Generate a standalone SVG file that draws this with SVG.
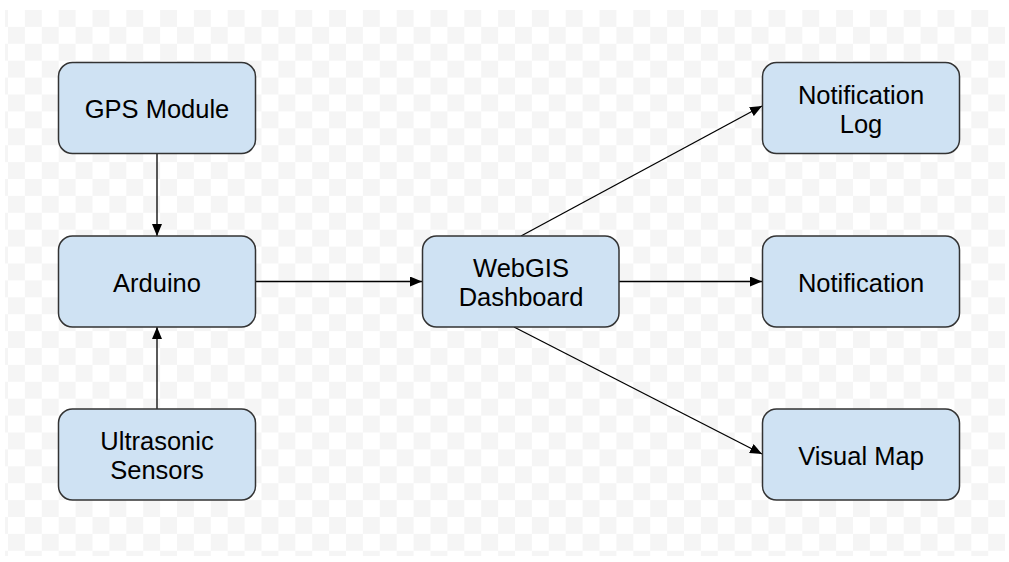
<svg xmlns="http://www.w3.org/2000/svg" width="1009" height="562" viewBox="0 0 1009 562">
  <defs>
    <pattern id="checker" x="8" y="10" width="33.8" height="33.8" patternUnits="userSpaceOnUse">
      <rect x="0" y="0" width="33.8" height="33.8" fill="#ffffff"/>
      <rect x="16.9" y="0" width="16.9" height="16.9" fill="#f5f5f5"/>
      <rect x="0" y="16.9" width="16.9" height="16.9" fill="#f5f5f5"/>
    </pattern>
    <marker id="arrow" viewBox="0 0 12 10" refX="12" refY="5" markerWidth="12" markerHeight="10" markerUnits="userSpaceOnUse" orient="auto">
      <path d="M0,0 L12,5 L0,10 Z" fill="#000"/>
    </marker>
  </defs>
  <style>
    .box { fill: #cfe2f3; stroke: #333333; stroke-width: 1.5; }
    .lbl { font-family: "Liberation Sans", Arial, sans-serif; font-size: 25.5px; fill: #000; text-anchor: middle; }
    .edge { stroke: #000; stroke-width: 1.3; fill: none; marker-end: url(#arrow); }
  </style>
  <rect x="0" y="0" width="1009" height="562" fill="#ffffff"/>
  <rect x="5" y="10" width="1000" height="546" fill="url(#checker)"/>

  <g id="connectors">
    <line class="edge" x1="157" y1="154" x2="157" y2="236"/>
    <line class="edge" x1="157" y1="409" x2="157" y2="327"/>
    <line class="edge" x1="256" y1="281.5" x2="422" y2="281.5"/>
    <line class="edge" x1="521" y1="236" x2="762" y2="106"/>
    <line class="edge" x1="619" y1="281.5" x2="762" y2="281.5"/>
    <line class="edge" x1="514" y1="327" x2="762" y2="454"/>
  </g>

  <g id="gps">
    <rect class="box" x="58.5" y="62.5" width="197" height="91" rx="14"/>
    <text class="lbl" x="157" y="118">GPS Module</text>
  </g>
  <g id="arduino">
    <rect class="box" x="58.5" y="236" width="197" height="91" rx="14"/>
    <text class="lbl" x="157" y="291.5">Arduino</text>
  </g>
  <g id="ultrasonic">
    <rect class="box" x="58.5" y="409" width="197" height="91" rx="14"/>
    <text class="lbl" x="157" y="450">Ultrasonic</text>
    <text class="lbl" x="157" y="479">Sensors</text>
  </g>
  <g id="webgis">
    <rect class="box" x="422.5" y="236" width="196.5" height="91" rx="14"/>
    <text class="lbl" x="521" y="277">WebGIS</text>
    <text class="lbl" x="521" y="306">Dashboard</text>
  </g>
  <g id="notification-log">
    <rect class="box" x="762.5" y="62.5" width="197" height="91" rx="14"/>
    <text class="lbl" x="861" y="104">Notification</text>
    <text class="lbl" x="861" y="133">Log</text>
  </g>
  <g id="notification">
    <rect class="box" x="762.5" y="236" width="197" height="91" rx="14"/>
    <text class="lbl" x="861" y="291.5">Notification</text>
  </g>
  <g id="visual-map">
    <rect class="box" x="762.5" y="409" width="197" height="91" rx="14"/>
    <text class="lbl" x="861" y="464.5">Visual Map</text>
  </g>
</svg>
